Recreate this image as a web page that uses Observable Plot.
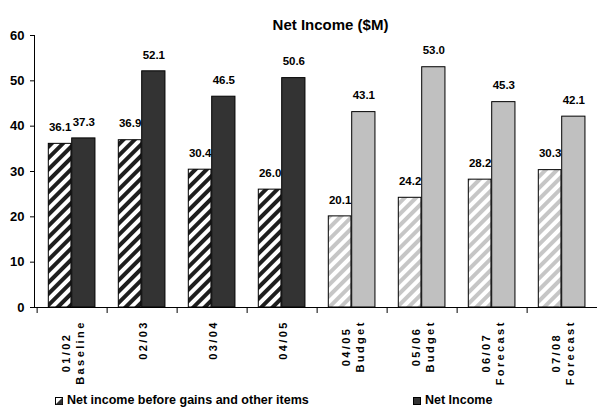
<!DOCTYPE html>
<html>
<head>
<meta charset="utf-8">
<script src="https://cdn.jsdelivr.net/npm/d3@7"></script>
<script src="https://cdn.jsdelivr.net/npm/@observablehq/plot@0.6"></script>
<style>
  html, body { margin: 0; padding: 0; background: #fff; overflow: hidden; }
  body { width: 597px; font-family: "Liberation Sans", Arial, sans-serif; }
  g[aria-description="xlabel"] text, text.xlabel { letter-spacing: 2.4px; }
  #legend { position: relative; width: 597px; height: 25px; font: bold 12.5px "Liberation Sans", Arial, sans-serif; color: #000; }
  #legend .item { position: absolute; top: 8px; line-height: 14px; white-space: nowrap; }
  #legend svg { vertical-align: -1px; margin-right: 4px; }
</style>
</head>
<body>
<div id="chart"></div>
<div id="legend"></div>
<script>
// ---- data ----
const categories = ["01/02\nBaseline", "02/03", "03/04", "04/05", "04/05\nBudget", "05/06\nBudget", "06/07\nForecast", "07/08\nForecast"];
const beforeGains = [36.1, 36.9, 30.4, 26.0, 20.1, 24.2, 28.2, 30.3];
const netIncome = [37.3, 52.1, 46.5, 50.6, 43.1, 53.0, 45.3, 42.1];
const yTicks = [0, 10, 20, 30, 40, 50, 60];
const seriesNames = ["Net income before gains and other items", "Net Income"];
const title = "Net Income ($M)";

const rows = categories.map((cat, i) => ({
  cat,
  proj: /Budget|Forecast/.test(cat),
  a: beforeGains[i],
  b: netIncome[i]
}));

const FONT = "'Liberation Sans', Arial, sans-serif";
const xRange = [34, 600];
const bw = (xRange[1] - xRange[0]) / categories.length;
const LS = 2.4;

// text measurement for rotated category labels
const ctx = document.createElement("canvas").getContext("2d");
ctx.font = "bold 11px 'Liberation Sans', Arial, sans-serif";
const measure = s => ctx.measureText(s).width + LS * (s.length - 1);

const patternDefs = () => {
  const defs = d3.create("svg:defs");
  for (const [id, color] of [["hatchDark", "#1e1e1e"], ["hatchLight", "#c6c6c6"]]) {
    const p = defs.append("pattern").attr("id", id)
      .attr("patternUnits", "userSpaceOnUse")
      .attr("width", 8).attr("height", 8)
      .attr("patternTransform", "rotate(45)");
    p.append("rect").attr("width", 8).attr("height", 8).attr("fill", "white");
    p.append("rect").attr("width", 4).attr("height", 8).attr("fill", color);
  }
  return defs.node();
};

const barA = {insetLeft: 11.3, insetRight: bw - 34.7};
const barB = {insetLeft: 34.7, insetRight: bw - 58.7};
const labelStyle = {fontSize: 11.5, fontWeight: "bold", fill: "black", dy: -16.5};

const chart = Plot.plot({
  width: 597,
  height: 385,
  marginLeft: 34,
  marginRight: 0,
  marginTop: 35,
  marginBottom: 78,
  style: {fontFamily: FONT, color: "black", background: "white", overflow: "visible"},
  x: {type: "band", domain: categories, range: xRange, padding: 0, axis: null, label: null},
  y: {domain: [0, 60], axis: null, label: null},
  marks: [
    patternDefs,
    Plot.barY(rows, {filter: d => !d.proj, x: "cat", y: "a", fill: "url(#hatchDark)", stroke: "black", strokeWidth: 1, ...barA}),
    Plot.barY(rows, {filter: d => d.proj, x: "cat", y: "a", fill: "url(#hatchLight)", stroke: "black", strokeWidth: 1, ...barA}),
    Plot.barY(rows, {filter: d => !d.proj, x: "cat", y: "b", fill: "#333333", stroke: "black", strokeWidth: 1, ...barB}),
    Plot.barY(rows, {filter: d => d.proj, x: "cat", y: "b", fill: "#c0c0c0", stroke: "black", strokeWidth: 1, ...barB}),
    Plot.text(rows, {x: "cat", y: "a", text: d => d.a.toFixed(1), dx: (11.3 + 34.7) / 2 - bw / 2, ...labelStyle}),
    Plot.text(rows, {x: "cat", y: "b", text: d => d.b.toFixed(1), dx: (34.7 + 58.7) / 2 - bw / 2, ...labelStyle}),
    Plot.frame({anchor: "left", stroke: "black"}),
    Plot.ruleY([0], {stroke: "black"}),
    Plot.axisY({ticks: yTicks, tickSize: 4, tickPadding: 6, fontSize: 13, fontWeight: "bold", tickFormat: d => String(d), label: null}),
    Plot.axisX({ticks: categories, tickSize: 6, tickFormat: () => "", dx: -bw / 2, label: null}),
    ...categories.map(c => {
      const len = Math.max(...c.split("\n").map(measure));
      return Plot.text([c], {
        x: d => d, text: d => d, frameAnchor: "bottom", rotate: -90,
        textAnchor: "middle", lineAnchor: "middle", lineHeight: 1.3,
        dy: 14 + len / 2, fontSize: 11, fontWeight: "bold", fill: "black",
        ariaDescription: "xlabel"
      });
    }),
    Plot.text([title], {frameAnchor: "top", text: d => d, dx: 14.5, dy: -16, fontSize: 15, fontWeight: "bold", fill: "black"})
  ]
});
document.getElementById("chart").appendChild(chart);

// ---- legend ----
const legend = document.getElementById("legend");
const swatches = [
  `<svg width="8" height="8"><rect x="0.5" y="0.5" width="7" height="7" fill="white" stroke="black"/><polygon points="7.5,0.5 7.5,7.5 0.5,7.5" fill="#333"/></svg>`,
  `<svg width="8" height="8"><rect x="0.5" y="0.5" width="7" height="7" fill="#333" stroke="black"/></svg>`
];
const lefts = [55, 413];
seriesNames.forEach((name, i) => {
  const el = document.createElement("div");
  el.className = "item";
  el.style.left = lefts[i] + "px";
  el.innerHTML = swatches[i] + name;
  legend.appendChild(el);
});
</script>
</body>
</html>
